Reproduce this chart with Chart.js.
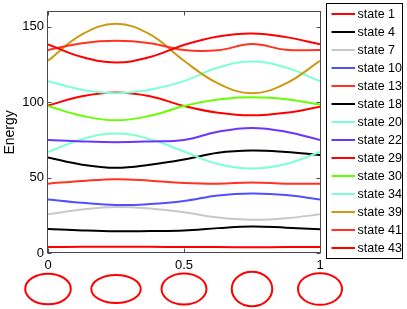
<!DOCTYPE html>
<html>
<head>
<meta charset="utf-8">
<script src="https://cdn.jsdelivr.net/npm/chart.js@4/dist/chart.umd.min.js"></script>
<style>
html, body { margin: 0; padding: 0; background: #fff; }
canvas { display: block; }
</style>
</head>
<body>
<canvas id="chart" width="407" height="309"></canvas>
<script>
// sample positions along the path (0..1)
const xs = [0, 0.125, 0.25, 0.375, 0.5, 0.625, 0.75, 0.875, 1]

const stateLabels = ['state 1', 'state 4', 'state 7', 'state 10', 'state 13', 'state 18', 'state 20',
    'state 22', 'state 29', 'state 30', 'state 34', 'state 39', 'state 41', 'state 43']

const state1  = [4, 4.1, 4.2, 4.1, 4, 3.9, 3.8, 3.9, 4]
const state4  = [16, 15, 14.4, 14.6, 15, 16.5, 17.6, 16.8, 15.8]
const state7  = [25.7, 28.8, 30.5, 29.5, 27, 23.5, 22, 23, 25.7]
const state10 = [35.5, 33.3, 31.8, 32.5, 34.5, 38.2, 39.5, 38.5, 35.5]
const state13 = [46, 47.8, 49, 48, 46.5, 46, 46.8, 46, 46]
const state18 = [63.4, 58.6, 56.5, 58.5, 62, 66.5, 68, 67, 65]
const state20 = [67, 75.5, 79.3, 75.5, 67.3, 59, 56, 59, 67]
const state22 = [75, 74, 73.5, 74, 75, 80.5, 83, 80.5, 75]
const state29 = [97.8, 104, 106.5, 104, 97.5, 93, 91.3, 93, 97]
const state30 = [97.5, 91, 88, 91, 97.5, 101.8, 103.3, 102, 98.5]
const state34 = [114, 108.3, 106, 108.3, 114, 123, 127, 123, 114]
const state39 = [127.5, 145, 152, 145, 127.5, 112.5, 106, 112.5, 127.5]
const state41 = [134.6, 139.2, 140.8, 139.2, 134.6, 134.5, 138.6, 134.8, 134.6]
const state43 = [138.4, 130, 126.4, 130, 138, 143.6, 145.6, 143.2, 138.4]

const yTicks = [0, 50, 100, 150]
const xTicks = [0, 0.5, 1]

// shape of the deformed loop drawn under the axis (height / width)
const shapeX = [0, 0.25, 0.5, 0.75, 1]
const shapeAspect = [0.67, 0.57, 0.69, 0.85, 0.72]

const series = [state1, state4, state7, state10, state13, state18, state20,
    state22, state29, state30, state34, state39, state41, state43]
const colors = ['#ff0000', '#000000', '#c8c8c8', '#5050ff', '#ff3322', '#000000', '#7fffd4',
    '#6a35ff', '#ff0000', '#66ff00', '#7fffd4', '#cc9a10', '#ff3322', '#ff0000']

const FONT = '"Liberation Sans", Arial, Helvetica, sans-serif'

const extras = {
    id: 'extras',
    afterDatasetsDraw(chart) {
        const {ctx, chartArea: a, scales: {x, y}} = chart
        const L = Math.floor(a.left) - 0.5, R = Math.floor(a.right) + 0.5
        const T = Math.floor(a.top) + 0.5, B = Math.floor(a.bottom) - 0.5
        ctx.save()
        ctx.strokeStyle = '#4a4a4a'
        ctx.lineWidth = 1
        ctx.strokeRect(L, T, R - L, B - T)
        ctx.beginPath()
        // inward ticks on all four sides
        y.ticks.forEach(t => {
            const py = Math.round(y.getPixelForValue(t.value)) + 0.5
            ctx.moveTo(L, py); ctx.lineTo(L + 4, py)
            ctx.moveTo(R, py); ctx.lineTo(R - 4, py)
        })
        x.ticks.forEach(t => {
            const px = Math.round(x.getPixelForValue(t.value)) + 0.5
            ctx.moveTo(px, B); ctx.lineTo(px, B - 4)
            ctx.moveTo(px, T); ctx.lineTo(px, T + 4)
        })
        ctx.stroke()
        ctx.restore()
    },
    afterDraw(chart) {
        const {ctx, scales: {x}} = chart
        ctx.save()
        // loops below the axis
        ctx.strokeStyle = '#ff0000'
        ctx.lineWidth = 2
        const area = 348
        shapeX.forEach((v, i) => {
            const rx = Math.sqrt(area / shapeAspect[i])
            const ry = Math.sqrt(area * shapeAspect[i])
            ctx.beginPath()
            ctx.ellipse(x.getPixelForValue(v), 289, rx, ry, 0, 0, Math.PI * 2)
            ctx.stroke()
        })
        // legend box
        const bx = 326.5, by = 3.5, bw = 76, bh = 255
        ctx.fillStyle = '#fff'
        ctx.fillRect(bx, by, bw, bh)
        ctx.strokeStyle = '#000'
        ctx.lineWidth = 1
        ctx.strokeRect(bx, by, bw, bh)
        ctx.font = '12.5px ' + FONT
        ctx.textBaseline = 'middle'
        ctx.textAlign = 'left'
        chart.data.datasets.forEach((ds, i) => {
            const cy = 14 + 18 * i
            ctx.strokeStyle = ds.borderColor
            ctx.lineWidth = 2
            ctx.beginPath()
            ctx.moveTo(331.5, cy)
            ctx.lineTo(355, cy)
            ctx.stroke()
            ctx.fillStyle = '#000'
            ctx.fillText(ds.label, 357.5, cy + 0.5)
        })
        ctx.restore()
    }
}

new Chart(document.getElementById('chart'), {
    type: 'line',
    data: {
        datasets: series.map((s, i) => ({
            label: stateLabels[i],
            data: s.map((v, j) => ({x: xs[j], y: v})),
            borderColor: colors[i],
            borderWidth: 2,
            pointRadius: 0,
            tension: 0.4,
            fill: false,
            order: -i,
        }))
    },
    options: {
        responsive: false,
        animation: false,
        devicePixelRatio: 1,
        layout: {padding: {top: 8, right: 87, left: 0, bottom: 0}},
        plugins: {
            legend: {display: false},
            tooltip: {enabled: false}
        },
        scales: {
            x: {
                type: 'linear',
                min: 0,
                max: 1,
                afterFit: (s) => { s.height = 56 },
                afterBuildTicks: (s) => { s.ticks = xTicks.map(v => ({value: v})) },
                grid: {display: false, drawTicks: false, tickLength: 0},
                border: {display: false},
                ticks: {
                    color: '#000',
                    padding: 5,
                    maxRotation: 0,
                    callback: (v) => String(v),
                    font: {family: FONT, size: 13}
                }
            },
            y: {
                min: 0,
                max: 160,
                afterFit: (s) => { s.width = 48 },
                afterBuildTicks: (s) => { s.ticks = yTicks.map(v => ({value: v})) },
                grid: {display: false, drawTicks: false, tickLength: 0},
                border: {display: false},
                ticks: {
                    color: '#000',
                    padding: 4,
                    callback: (v) => String(v),
                    font: {family: FONT, size: 13}
                },
                title: {
                    display: true,
                    text: 'Energy',
                    color: '#000',
                    padding: {top: 2, bottom: 0},
                    font: {family: FONT, size: 14}
                }
            }
        }
    },
    plugins: [extras]
})
</script>
</body>
</html>
